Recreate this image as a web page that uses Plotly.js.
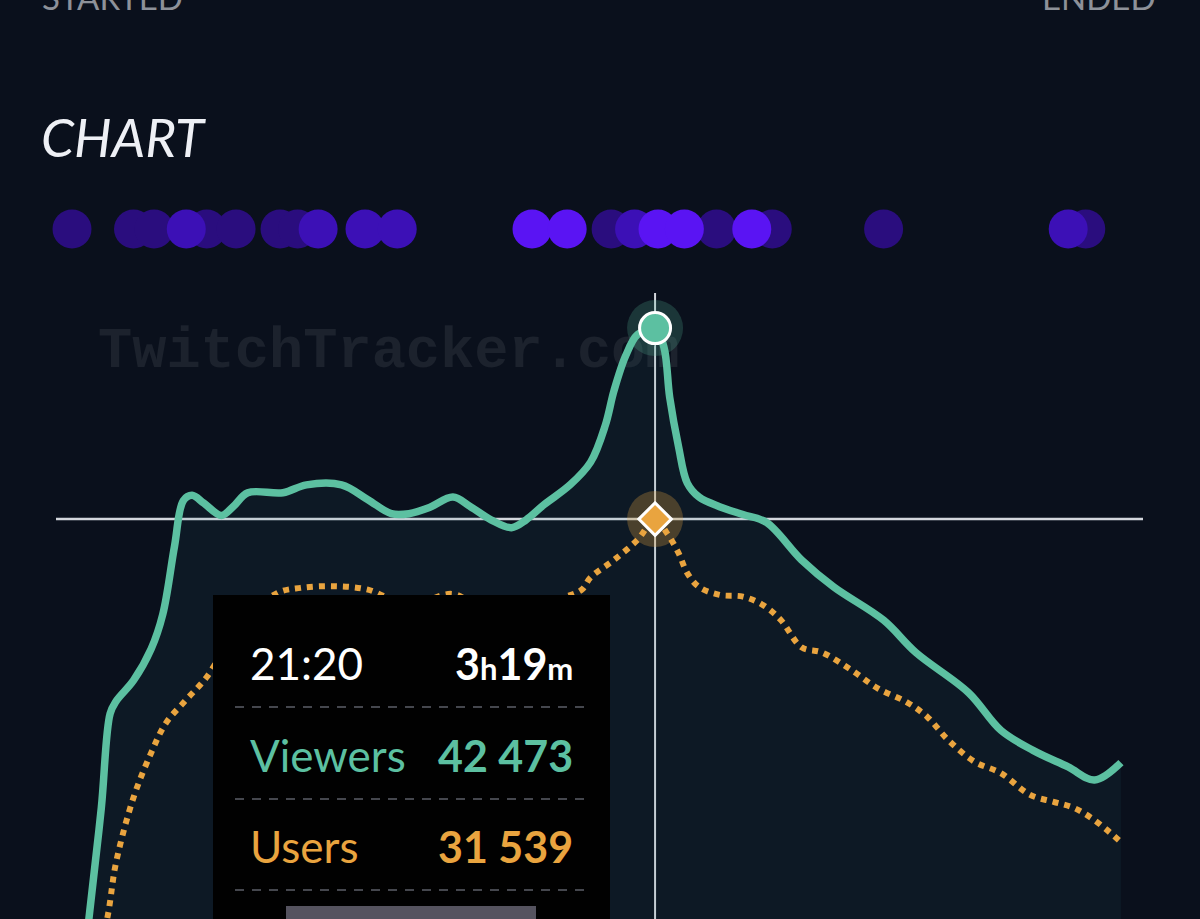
<!DOCTYPE html>
<html>
<head>
<meta charset="utf-8">
<script src="https://cdn.plot.ly/plotly-3.0.1.min.js"></script>
<style>
  html, body { margin: 0; padding: 0; background: #0a101c; overflow: hidden; }
  #chart { width: 1200px; height: 919px; }
</style>
</head>
<body>
<div id="chart"></div>
<script>
// ---------------- DATA ----------------
const streamStart = '18:01';          // clock time of stream start
const hoverMinute = 199;              // minutes since start under the crosshair

const viewerMinutes = [0, 6, 10, 13, 15, 21, 27, 31, 35, 38, 41, 45, 51, 55, 60, 72, 80, 92, 101, 109, 115, 122, 130, 136, 143, 150, 155, 161, 170, 177, 182, 185, 189, 193, 199, 202, 204, 207, 210, 214, 221, 229, 237, 249, 260, 277, 288, 306, 317, 328, 340, 349, 358];
const viewerCounts  = [0, 9000, 15000, 20400, 21100, 22300, 24100, 26100, 30000, 32600, 32900, 32450, 31750, 32250, 33050, 33050, 33500, 33500, 32650, 31850, 31850, 32200, 32800, 32250, 31500, 31050, 31500, 32350, 33500, 34800, 36900, 38900, 40900, 42100, 42473, 41400, 38500, 35700, 33600, 32800, 32250, 31800, 31350, 29200, 27650, 25750, 23900, 21600, 19450, 18300, 17350, 16600, 17600];

const userMinutes = [0, 12, 15, 21, 27, 32, 39, 46, 57, 70, 78, 89, 101, 115, 130, 143, 155, 167, 174, 177, 185, 193, 199, 203, 207, 210, 214, 221, 229, 236, 242, 249, 256, 266, 275, 285, 292, 299, 308, 317, 327, 335, 342, 349, 358];
const userCounts  = [0, 8650, 11850, 15600, 18150, 19850, 21200, 22500, 25400, 27300, 27600, 27700, 27500, 26600, 27250, 26050, 26200, 27000, 27500, 28200, 29200, 30350, 31539, 30750, 29600, 28450, 27650, 27200, 27100, 26600, 25750, 24200, 23900, 22900, 21850, 21050, 20200, 18900, 17650, 17000, 15750, 15350, 15000, 14300, 13050];

const eventMinutes = [0, 21, 28, 39, 46, 56, 71, 77, 84, 100, 111, 157, 169, 184, 192, 200, 209, 220, 232, 239, 277, 340, 346];
const eventLevels  = [1, 1, 1, 2, 1, 1, 1, 1, 2, 2, 2, 3, 3, 1, 2, 3, 3, 1, 3, 1, 1, 2, 1];

const labels = { started: 'STARTED', ended: 'ENDED', chart: 'CHART', watermark: 'TwitchTracker.com', viewers: 'Viewers', users: 'Users' };

// ---------------- STYLE / LAYOUT HELPERS ----------------
const W = 1200, H = 919;
const X0 = 72, KX = 2.93;          // pixel of minute 0, pixels per minute
const Y0 = 1070, KY = 57.25;       // pixel of zero viewers, viewers per pixel
const xRange = [(0 - X0) / KX, (W - X0) / KX];
const yRange = [(Y0 - H) * KY, (Y0 - 0) * KY];
const px = p => p / W;
const py = p => 1 - p / H;
const xAtPx = p => (p - X0) / KX;
const yAtPx = p => (Y0 - p) * KY;

const TEAL = '#5cc0a1', ORANGE = '#e9a43f', BG = '#0a101c';
const fmt = n => String(n).replace(/\B(?=(\d{3})+(?!\d))/g, ' ');

const [sh, sm] = streamStart.split(':').map(Number);
const tot = sh * 60 + sm + hoverMinute;
const clock = String(Math.floor(tot / 60) % 24).padStart(2, '0') + ':' + String(tot % 60).padStart(2, '0');
const elH = Math.floor(hoverMinute / 60), elM = hoverMinute % 60;
const vHover = viewerCounts[viewerMinutes.indexOf(hoverMinute)];
const uHover = userCounts[userMinutes.indexOf(hoverMinute)];

const levelColors = { 1: '#2a0d7e', 2: '#3c10b6', 3: '#5a14f3' };

const traces = [];
// watermark (drawn first, under the lines)
traces.push({
  type: 'scatter', mode: 'text', x: [xAtPx(98)], y: [yAtPx(353)],
  text: [labels.watermark], textposition: 'middle right',
  textfont: { family: 'Liberation Mono, Courier New, monospace', size: 57, color: '#1c222d', weight: 'bold' },
  hoverinfo: 'skip', cliponaxis: false
});
// viewers area + line
traces.push({
  type: 'scatter', mode: 'lines', x: viewerMinutes, y: viewerCounts,
  fill: 'tozeroy', fillcolor: 'rgba(40,120,130,0.09)',
  line: { color: TEAL, width: 7.5, shape: 'spline', smoothing: 1 },
  hoverinfo: 'skip'
});
// users dotted line
traces.push({
  type: 'scatter', mode: 'lines', x: userMinutes, y: userCounts,
  line: { color: ORANGE, width: 6, dash: '6px,6px', shape: 'spline', smoothing: 1 },
  hoverinfo: 'skip'
});
// event dots, darker levels drawn first
[1, 2, 3].forEach(lv => {
  const xs = eventMinutes.filter((m, i) => eventLevels[i] === lv);
  traces.push({
    type: 'scatter', mode: 'markers', x: xs, y: xs.map(() => yAtPx(229)),
    marker: { size: 39, color: levelColors[lv], line: { width: 0 } },
    hoverinfo: 'skip', cliponaxis: false
  });
});
// hover markers
traces.push({
  type: 'scatter', mode: 'markers', x: [hoverMinute, hoverMinute], y: [vHover, uHover],
  marker: { size: 56, color: ['rgba(92,192,161,0.22)', 'rgba(233,164,63,0.28)'], line: { width: 0 } },
  hoverinfo: 'skip'
});
traces.push({
  type: 'scatter', mode: 'markers', x: [hoverMinute], y: [vHover],
  marker: { size: 31, color: TEAL, line: { color: '#ffffff', width: 3 } }, hoverinfo: 'skip'
});
traces.push({
  type: 'scatter', mode: 'markers', x: [hoverMinute], y: [uHover],
  marker: { size: 25, symbol: 'diamond', color: ORANGE, line: { color: '#ffffff', width: 3 } }, hoverinfo: 'skip'
});

const shapes = [
  { type: 'line', layer: 'below', xref: 'x', yref: 'paper', x0: hoverMinute, x1: hoverMinute, y0: -0.05, y1: py(293), line: { color: '#d4d7dd', width: 2 } },
  { type: 'line', layer: 'below', xref: 'paper', yref: 'y', x0: px(56), x1: px(1143), y0: uHover, y1: uHover, line: { color: '#d4d7dd', width: 2.5 } },
  { type: 'rect', layer: 'above', xref: 'paper', yref: 'paper', x0: px(213), x1: px(610), y0: -0.05, y1: py(595), fillcolor: '#010101', line: { width: 0 } },
  { type: 'rect', layer: 'above', xref: 'paper', yref: 'paper', x0: px(286), x1: px(536), y0: -0.05, y1: py(906), fillcolor: '#55535f', line: { width: 0 } }
];
[707, 799, 890].forEach(yy => shapes.push({
  type: 'line', layer: 'above', xref: 'paper', yref: 'paper', x0: px(235), x1: px(590), y0: py(yy), y1: py(yy),
  line: { color: '#45474e', width: 2, dash: '9px,8px' }
}));

const ann = (text, x, y, xanchor, font) => ({ text, x: px(x), y: py(y), xref: 'paper', yref: 'paper', xanchor, yanchor: 'middle', showarrow: false, font });
const TF = 'Lato, Noto Sans, sans-serif';
const annotations = [
  ann(labels.started, 40, -3, 'left', { family: TF, size: 33, color: '#8d9199' }),
  ann(labels.ended, 1158, -3, 'right', { family: TF, size: 33, color: '#8d9199' }),
  ann(labels.chart, 39, 136, 'left', { family: TF, size: 53, color: '#eef0f5', style: 'italic' }),
  ann(clock, 248, 663, 'left', { family: TF, size: 44, color: '#ffffff' }),
  ann('<b>' + elH + '</b><span style="font-size:31px"><b>h</b></span><b>' + elM + '</b><span style="font-size:31px"><b>m</b></span>', 575, 663, 'right', { family: TF, size: 43, color: '#ffffff' }),
  ann(labels.viewers, 248, 755, 'left', { family: TF, size: 44, color: TEAL }),
  ann('<b>' + fmt(vHover) + '</b>', 575, 755, 'right', { family: TF, size: 43, color: TEAL }),
  ann(labels.users, 248, 846, 'left', { family: TF, size: 44, color: ORANGE }),
  ann('<b>' + fmt(uHover) + '</b>', 575, 846, 'right', { family: TF, size: 43, color: ORANGE })
];

const layout = {
  width: W, height: H,
  margin: { l: 0, r: 0, t: 0, b: 0, pad: 0 },
  paper_bgcolor: BG, plot_bgcolor: BG,
  showlegend: false, hovermode: false,
  xaxis: { range: xRange, visible: false, fixedrange: true },
  yaxis: { range: yRange, visible: false, fixedrange: true },
  shapes, annotations
};

Plotly.newPlot('chart', traces, layout, { staticPlot: true, displayModeBar: false });
</script>
</body>
</html>
